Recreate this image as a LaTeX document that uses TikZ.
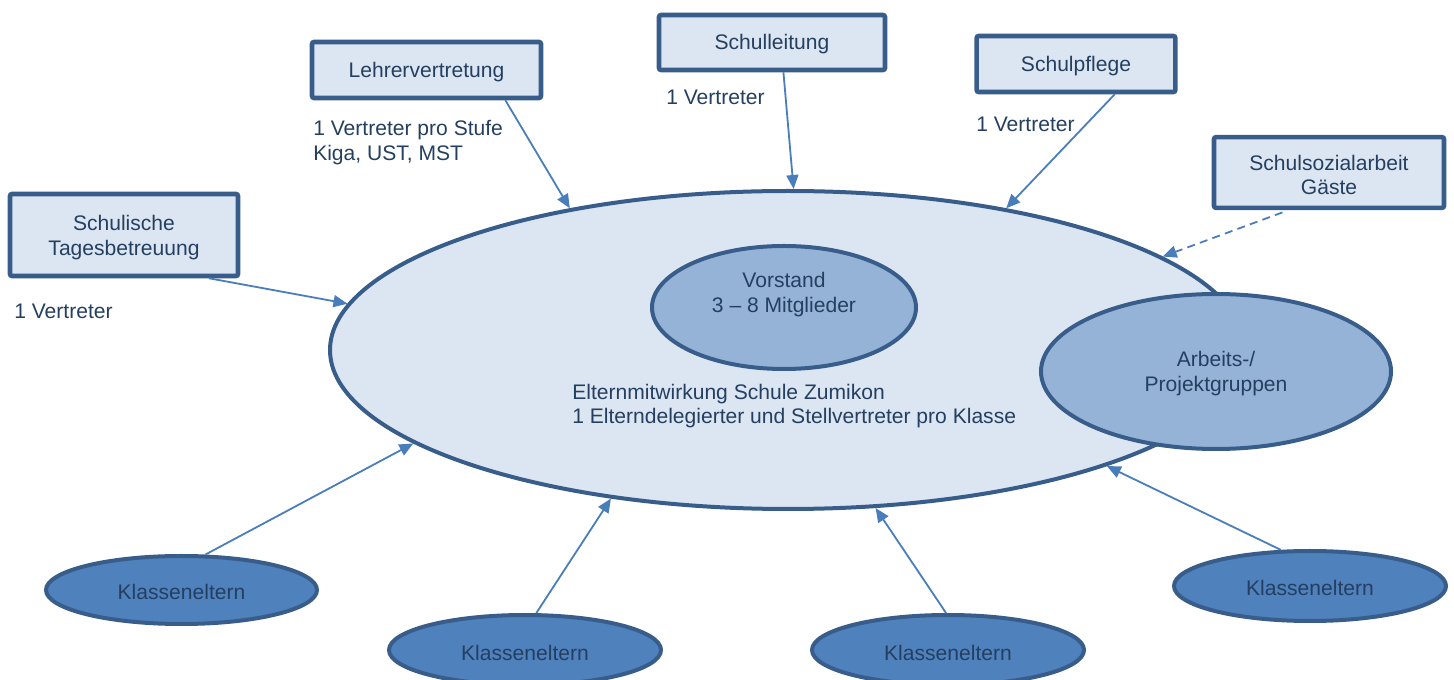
\documentclass[tikz,border=0pt]{standalone}
\usepackage{fontspec}
\setmainfont{Liberation Sans}
\usetikzlibrary{shapes.geometric,arrows.meta,calc}
\definecolor{txt}{HTML}{243F60}
\definecolor{bord}{HTML}{385D8A}
\definecolor{lightfill}{HTML}{DCE6F2}
\definecolor{midfill}{HTML}{95B3D7}
\definecolor{darkfill}{HTML}{4F81BD}
\definecolor{arrc}{HTML}{4A7EBB}
\begin{document}
\begin{tikzpicture}[x=0.75pt,y=-0.75pt,
  font=\fontsize{15.8}{18.5}\selectfont, text=txt,
  box/.style={draw=bord, line width=3.4pt, fill=lightfill, rounded corners=1.5pt, align=center, inner sep=0pt},
  ell/.style={ellipse, draw=bord, line width=3pt, inner sep=0pt, align=center},
  arr/.style={draw=arrc, line width=1.35pt, -{Triangle[length=10.5pt,width=9pt]}},
  lbl/.style={anchor=west, align=left, inner sep=0pt}]
\useasboundingbox (0,0) rectangle (1454,680);

% main ellipse and inner ellipses
\node[ell, fill=lightfill, minimum width=687pt, minimum height=238.5pt] (main) at (788,350) {};
\node[ell, fill=midfill, minimum width=198pt, minimum height=92.25pt] (vorstand) at (784,307.5) {};
\node[inner sep=0pt, align=center] (vorstandtxt) at (784,294.5) {Vorstand\\3 – 8 Mitglieder};
\node[ell, fill=midfill, minimum width=262.5pt, minimum height=116.25pt] (arbeit) at (1216,371.5) {};
\node[inner sep=0pt, align=center] (arbeittxt) at (1216,373.5) {Arbeits-/\\Projektgruppen};
\node[lbl] (maintxt) at (572,406) {Elternmitwirkung Schule Zumikon\\1 Elterndelegierter und Stellvertreter pro Klasse};

% boxes
\node[box, minimum width=171.75pt, minimum height=42pt] (lehrer) at (426.5,70) {};
\node[inner sep=0pt] (lehrertxt) at (426.5,72) {Lehrervertretung};
\node[box, minimum width=169.5pt, minimum height=41.25pt] (leitung) at (772,42.5) {};
\node[inner sep=0pt] (leitungtxt) at (772,44.5) {Schulleitung};
\node[box, minimum width=149pt, minimum height=42pt] (pflege) at (1076,64) {};
\node[inner sep=0pt] (pflegetxt) at (1076,66.5) {Schulpflege};
\node[box, minimum width=172.5pt, minimum height=53pt] (sozial) at (1329,172.5) {};
\node[inner sep=0pt, align=center] (sozialtxt) at (1329,175) {Schulsozialarbeit\\Gäste};
\node[box, minimum width=171pt, minimum height=61.5pt] (tages) at (124,235) {};
\node[inner sep=0pt, align=center] (tagestxt) at (124,237.5) {Schulische\\Tagesbetreuung};

% labels
\node[lbl] (lblLehrer) at (313,142.5) {1 Vertreter pro Stufe\\Kiga, UST, MST};
\node[lbl] (lblLeitung) at (666,97) {1 Vertreter};
\node[lbl] (lblPflege) at (976,124) {1 Vertreter};
\node[lbl] (lblTages) at (14,311) {1 Vertreter};

% Klasseneltern
\node[ell, fill=darkfill, minimum width=203.25pt, minimum height=51pt] (k1) at (181.5,590) {};
\node[inner sep=0pt] (k1txt) at (181.5,592) {Klasseneltern};
\node[ell, fill=darkfill, minimum width=204pt, minimum height=52.5pt] (k2) at (525,650) {};
\node[inner sep=0pt] (k2txt) at (525,653) {Klasseneltern};
\node[ell, fill=darkfill, minimum width=204pt, minimum height=52.5pt] (k3) at (948,650) {};
\node[inner sep=0pt] (k3txt) at (948,653) {Klasseneltern};
\node[ell, fill=darkfill, minimum width=204pt, minimum height=52.5pt] (k4) at (1310,586) {};
\node[inner sep=0pt] (k4txt) at (1310,588) {Klasseneltern};

% connectors
\draw[arr] (lehrer.-21.4) -- (main.147.7);
\draw[arr] (leitung.-69.5) -- (main.88.6);
\draw[arr] (pflege.-38.9) -- (main.33.2);
\draw[arr, dash pattern=on 6pt off 4pt, shorten <=5pt] (sozial.-137.8) -- (main.14.0);
\draw[arr] (tages.-27.3) -- (main.174.9);
\draw[arr] (k1.56.8) -- (main.194.1);
\draw[arr] (k2.73.7) -- (main.220.0);
\draw[arr] (k3.93.7) -- (main.-61.5);
\draw[arr] (k4.129.8) -- (main.-20.8);
\end{tikzpicture}
\end{document}
